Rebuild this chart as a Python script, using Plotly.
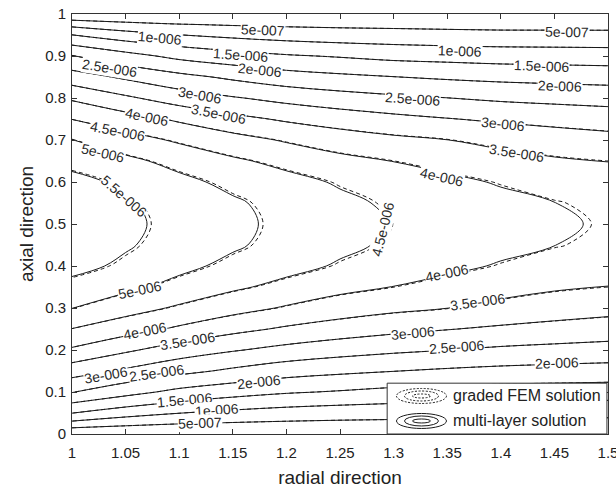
import plotly.graph_objects as go

# Grid of the solution field (values in units of 1e-6)
x_radial = [1.0, 1.05, 1.1, 1.15, 1.2, 1.25, 1.3, 1.35, 1.4, 1.45, 1.5]
y_axial = [0.0, 0.025, 0.05, 0.075, 0.1, 0.15, 0.2, 0.25, 0.3, 0.35, 0.4, 0.45, 0.5,
           0.55, 0.6, 0.65, 0.7, 0.75, 0.8, 0.85, 0.9, 0.925, 0.95, 0.975, 1.0]

# multi-layer solution, rows follow y_axial, columns follow x_radial
z_multilayer = [
    [0.00, 0.00, 0.00, 0.00, 0.00, 0.00, 0.00, 0.00, 0.00, 0.00, 0.00],
    [0.85, 0.64, 0.52, 0.46, 0.42, 0.39, 0.37, 0.35, 0.33, 0.33, 0.33],
    [1.51, 1.22, 1.01, 0.88, 0.79, 0.74, 0.71, 0.675, 0.65, 0.645, 0.64],
    [2.02, 1.71, 1.46, 1.30, 1.17, 1.09, 1.03, 0.99, 0.96, 0.95, 0.94],
    [2.53, 2.17, 1.87, 1.69, 1.55, 1.46, 1.36, 1.32, 1.275, 1.26, 1.24],
    [3.22, 2.92, 2.64, 2.41, 2.21, 2.10, 2.01, 1.93, 1.87, 1.83, 1.80],
    [3.93, 3.58, 3.26, 3.04, 2.85, 2.70, 2.59, 2.505, 2.415, 2.36, 2.31],
    [4.49, 4.21, 3.92, 3.64, 3.43, 3.27, 3.13, 3.02, 2.92, 2.84, 2.77],
    [5.01, 4.70, 4.43, 4.18, 3.95, 3.75, 3.61, 3.505, 3.37, 3.25, 3.16],
    [5.36, 5.12, 4.84, 4.58, 4.36, 4.14, 3.99, 3.83, 3.67, 3.56, 3.49],
    [5.64, 5.41, 5.13, 4.87, 4.66, 4.445, 4.26, 4.12, 3.955, 3.82, 3.72],
    [5.79, 5.55, 5.30, 5.07, 4.82, 4.61, 4.42, 4.285, 4.14, 4.005, 3.89],
    [5.84, 5.60, 5.35, 5.11, 4.88, 4.67, 4.48, 4.34, 4.205, 4.07, 3.94],
    [5.79, 5.55, 5.30, 5.07, 4.82, 4.61, 4.42, 4.285, 4.14, 4.005, 3.89],
    [5.64, 5.41, 5.13, 4.87, 4.66, 4.445, 4.26, 4.12, 3.955, 3.82, 3.72],
    [5.36, 5.12, 4.84, 4.58, 4.36, 4.14, 3.99, 3.83, 3.67, 3.56, 3.49],
    [5.01, 4.70, 4.43, 4.18, 3.95, 3.75, 3.61, 3.505, 3.37, 3.25, 3.16],
    [4.49, 4.21, 3.92, 3.64, 3.43, 3.27, 3.13, 3.02, 2.92, 2.84, 2.77],
    [3.93, 3.58, 3.26, 3.04, 2.85, 2.70, 2.59, 2.505, 2.415, 2.36, 2.31],
    [3.22, 2.92, 2.64, 2.41, 2.21, 2.10, 2.01, 1.93, 1.87, 1.83, 1.80],
    [2.53, 2.17, 1.87, 1.69, 1.55, 1.46, 1.36, 1.32, 1.275, 1.26, 1.24],
    [2.02, 1.71, 1.46, 1.30, 1.17, 1.09, 1.03, 0.99, 0.96, 0.95, 0.94],
    [1.51, 1.22, 1.01, 0.88, 0.79, 0.74, 0.71, 0.675, 0.65, 0.645, 0.64],
    [0.85, 0.64, 0.52, 0.46, 0.42, 0.39, 0.37, 0.35, 0.33, 0.33, 0.33],
    [0.00, 0.00, 0.00, 0.00, 0.00, 0.00, 0.00, 0.00, 0.00, 0.00, 0.00],
]

# graded FEM solution on the same grid
z_graded_fem = [
    [0.00, 0.00, 0.00, 0.00, 0.00, 0.00, 0.00, 0.00, 0.00, 0.00, 0.00],
    [0.85, 0.64, 0.52, 0.46, 0.42, 0.39, 0.37, 0.35, 0.33, 0.33, 0.33],
    [1.51, 1.22, 1.01, 0.88, 0.79, 0.74, 0.71, 0.675, 0.65, 0.645, 0.64],
    [2.02, 1.71, 1.46, 1.30, 1.17, 1.09, 1.03, 0.99, 0.96, 0.95, 0.94],
    [2.53, 2.17, 1.87, 1.69, 1.55, 1.46, 1.36, 1.32, 1.275, 1.26, 1.24],
    [3.22, 2.92, 2.64, 2.41, 2.21, 2.10, 2.01, 1.93, 1.87, 1.83, 1.80],
    [3.93, 3.58, 3.26, 3.04, 2.85, 2.70, 2.59, 2.505, 2.415, 2.36, 2.31],
    [4.49, 4.21, 3.92, 3.64, 3.43, 3.27, 3.13, 3.02, 2.92, 2.84, 2.77],
    [5.02, 4.71, 4.44, 4.19, 3.96, 3.76, 3.62, 3.515, 3.38, 3.26, 3.17],
    [5.37, 5.13, 4.85, 4.59, 4.37, 4.15, 4.003, 3.84, 3.68, 3.57, 3.50],
    [5.66, 5.43, 5.15, 4.89, 4.68, 4.465, 4.28, 4.14, 3.975, 3.84, 3.74],
    [5.81, 5.57, 5.32, 5.09, 4.84, 4.63, 4.44, 4.305, 4.16, 4.025, 3.91],
    [5.86, 5.62, 5.37, 5.13, 4.90, 4.69, 4.497, 4.36, 4.225, 4.09, 3.96],
    [5.81, 5.57, 5.32, 5.09, 4.84, 4.63, 4.44, 4.305, 4.16, 4.025, 3.91],
    [5.66, 5.43, 5.15, 4.89, 4.68, 4.465, 4.28, 4.14, 3.975, 3.84, 3.74],
    [5.37, 5.13, 4.85, 4.59, 4.37, 4.15, 4.003, 3.84, 3.68, 3.57, 3.50],
    [5.02, 4.71, 4.44, 4.19, 3.96, 3.76, 3.62, 3.515, 3.38, 3.26, 3.17],
    [4.49, 4.21, 3.92, 3.64, 3.43, 3.27, 3.13, 3.02, 2.92, 2.84, 2.77],
    [3.93, 3.58, 3.26, 3.04, 2.85, 2.70, 2.59, 2.505, 2.415, 2.36, 2.31],
    [3.22, 2.92, 2.64, 2.41, 2.21, 2.10, 2.01, 1.93, 1.87, 1.83, 1.80],
    [2.53, 2.17, 1.87, 1.69, 1.55, 1.46, 1.36, 1.32, 1.275, 1.26, 1.24],
    [2.02, 1.71, 1.46, 1.30, 1.17, 1.09, 1.03, 0.99, 0.96, 0.95, 0.94],
    [1.51, 1.22, 1.01, 0.88, 0.79, 0.74, 0.71, 0.675, 0.65, 0.645, 0.64],
    [0.85, 0.64, 0.52, 0.46, 0.42, 0.39, 0.37, 0.35, 0.33, 0.33, 0.33],
    [0.00, 0.00, 0.00, 0.00, 0.00, 0.00, 0.00, 0.00, 0.00, 0.00, 0.00],
]

unit = 1e-6
levels = [0.5, 1.0, 1.5, 2.0, 2.5, 3.0, 3.5, 4.0, 4.5, 5.0, 5.5]

x_ticks = [1.0, 1.05, 1.1, 1.15, 1.2, 1.25, 1.3, 1.35, 1.4, 1.45, 1.5]
y_ticks = [0.0, 0.1, 0.2, 0.3, 0.4, 0.5, 0.6, 0.7, 0.8, 0.9, 1.0]

# inline contour label placement: (level, x, y, rotation in degrees)
label_spots = [
    (0.5, 1.178, 0.963, 2), (0.5, 1.462, 0.957, 1),
    (1.0, 1.082, 0.944, 5), (1.0, 1.362, 0.912, 2),
    (1.5, 1.157, 0.903, 4), (1.5, 1.438, 0.876, 2),
    (2.0, 1.175, 0.866, 6), (2.0, 1.455, 0.828, 2),
    (2.5, 1.035, 0.872, 9), (2.5, 1.318, 0.797, 4),
    (3.0, 1.119, 0.808, 10), (3.0, 1.402, 0.737, 6),
    (3.5, 1.137, 0.762, 11), (3.5, 1.415, 0.670, 9),
    (4.0, 1.070, 0.755, 12), (4.0, 1.345, 0.613, 13),
    (4.5, 1.042, 0.721, 11), (4.5, 1.290, 0.488, -76),
    (5.0, 1.029, 0.669, 13),
    (5.5, 1.048, 0.566, 41),
    (5.0, 1.063, 0.343, -12),
    (4.0, 1.068, 0.246, -11), (4.0, 1.350, 0.384, -11),
    (3.5, 1.108, 0.221, -9), (3.5, 1.378, 0.314, -8),
    (3.0, 1.032, 0.141, -10), (3.0, 1.318, 0.241, -5),
    (2.5, 1.079, 0.146, -8), (2.5, 1.359, 0.208, -4),
    (2.0, 1.174, 0.125, -6), (2.0, 1.452, 0.169, -2),
    (1.5, 1.105, 0.082, -5),
    (1.0, 1.135, 0.057, -4),
    (0.5, 1.119, 0.027, -2),
]

FONT = "Liberation Sans, Arial, Helvetica, sans-serif"
INK = "#1a1a1a"


def matlab_label(value):
    mant, expo = f"{value:g}".split("e")
    return f"{mant}e{int(expo):+04d}"


def scaled(grid):
    return [[v * unit for v in row] for row in grid]


def contour_trace(z, dash, name):
    return go.Contour(
        x=x_radial, y=y_axial, z=scaled(z), name=name,
        contours=dict(start=levels[0] * unit, end=levels[-1] * unit,
                      size=(levels[1] - levels[0]) * unit,
                      coloring="lines", showlabels=False),
        line=dict(width=1, dash=dash, smoothing=1),
        colorscale=[[0, INK], [1, INK]], showscale=False,
        hoverinfo="skip", showlegend=False,
    )


fig = go.Figure()
fig.add_trace(contour_trace(z_graded_fem, "4px,3px", "graded FEM solution"))
fig.add_trace(contour_trace(z_multilayer, "solid", "multi-layer solution"))

annotations = []
for lv, lx, ly, ang in label_spots:
    annotations.append(dict(
        x=lx, y=ly, xref="x", yref="y", text=matlab_label(lv * unit),
        textangle=ang, showarrow=False, bgcolor="white", borderpad=0,
        font=dict(family=FONT, size=14, color="#2a2a2a"),
        xanchor="center", yanchor="middle",
    ))

# legend box drawn in plot-area paper coordinates
shapes = [dict(type="rect", xref="paper", yref="paper", x0=0.588, x1=0.998,
               y0=0.0, y1=0.121, line=dict(color="#333", width=1),
               fillcolor="white", layer="above")]
legend_rows = [(0.0905, "dash", "graded FEM solution"),
               (0.031, "solid", "multi-layer solution")]
for cy, dash, text in legend_rows:
    for w, h in [(50, 15), (34, 10), (18, 4)]:
        hw, hh = w / 2 / 536, h / 2 / 420
        shapes.append(dict(type="circle", xref="paper", yref="paper",
                           x0=0.652 - hw, x1=0.652 + hw, y0=cy - hh, y1=cy + hh,
                           line=dict(color=INK, width=1,
                                     dash="2px,1.5px" if dash == "dash" else "solid"),
                           layer="above"))
    annotations.append(dict(x=0.708, y=cy, xref="paper", yref="paper", text=text,
                            showarrow=False, xanchor="left", yanchor="middle",
                            font=dict(family=FONT, size=16, color="#222")))

axis_common = dict(showline=True, linecolor="#333", linewidth=1, mirror="ticks",
                   ticks="inside", ticklen=5, tickcolor="#333", showgrid=False,
                   zeroline=False, automargin=False,
                   tickfont=dict(family=FONT, size=15, color="#222"))

fig.update_layout(
    width=616, height=490,
    margin=dict(l=72, r=8, t=14, b=56),
    paper_bgcolor="white", plot_bgcolor="white",
    xaxis=dict(range=[1.0, 1.5], tickvals=x_ticks,
               ticktext=[f"{v:g}" for v in x_ticks], ticklabelstandoff=5,
               ticklabeloverflow="allow",
               title=dict(text="radial direction", standoff=10,
                          font=dict(family=FONT, size=19, color="#222")),
               **axis_common),
    yaxis=dict(range=[0.0, 1.0], tickvals=y_ticks,
               ticktext=[f"{v:g}" for v in y_ticks], ticklabelstandoff=2,
               title=dict(text="axial direction", standoff=6,
                          font=dict(family=FONT, size=19, color="#222")),
               **axis_common),
    annotations=annotations,
    shapes=shapes,
    showlegend=False,
)

fig.write_html("out.html")
